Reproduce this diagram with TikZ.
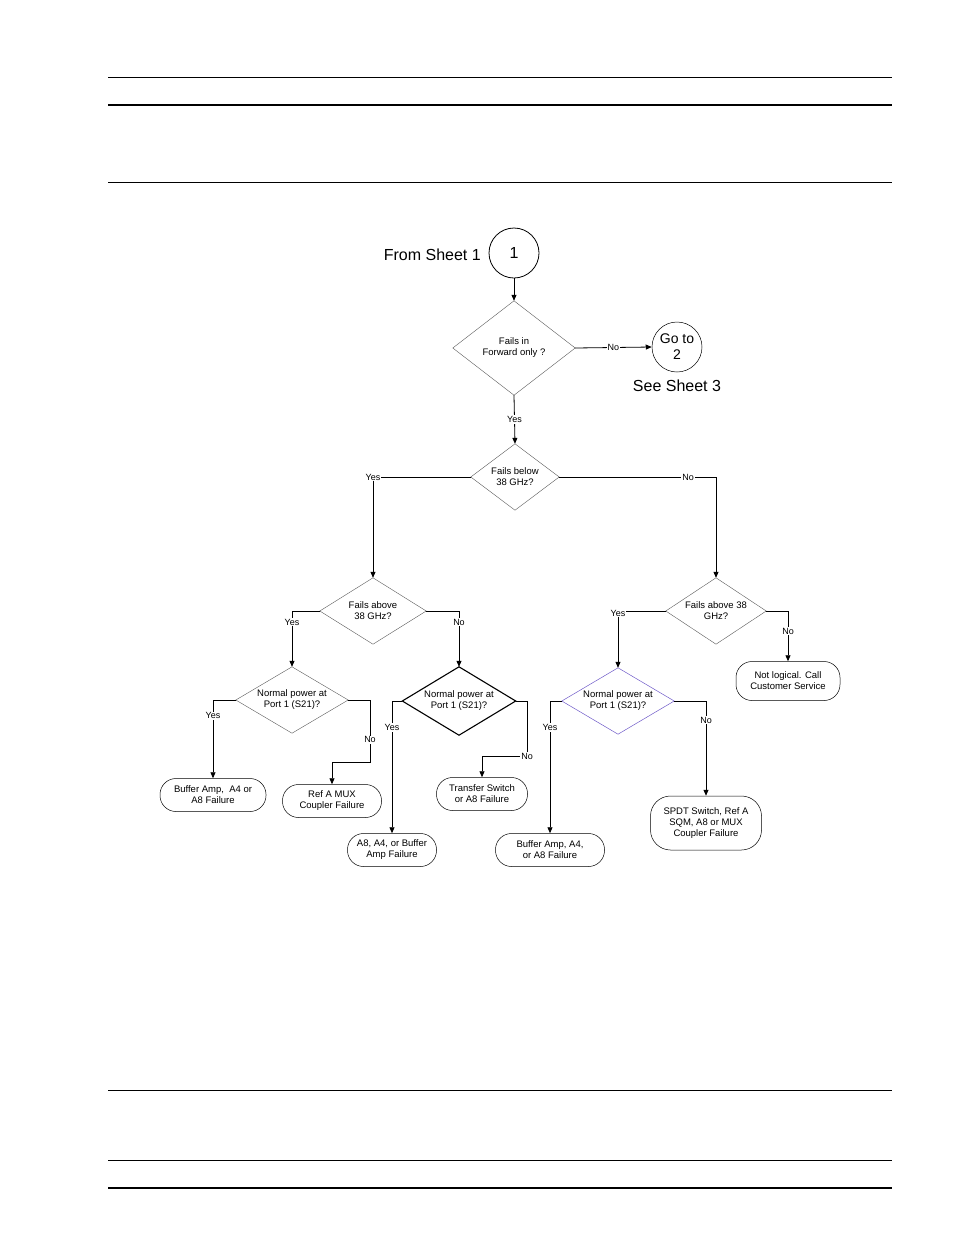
\documentclass[tikz,border=0pt]{standalone}
\usepackage{fontspec}
\setmainfont{Liberation Sans}
\usetikzlibrary{arrows.meta}
\begin{document}
\begin{tikzpicture}[x=1pt,y=-1pt,
  txt/.style={font=\fontsize{9.5}{11}\selectfont,align=center,inner sep=0},
  dbox/.style={txt,minimum width=#1},
  term/.style={txt,draw,rounded corners=16,minimum height=33,line width=0.5pt},
  lab/.style={font=\fontsize{9}{10}\selectfont,fill=white,inner sep=1pt},
  big/.style={font=\fontsize{16}{19}\selectfont,align=center,inner sep=0},
  arr/.style={-{Triangle[length=6pt,width=5pt]},line width=0.8pt},
  ln/.style={line width=0.8pt}]
\useasboundingbox (0,0) rectangle (954,1235);
% page rules
\draw[line width=0.6pt] (108,77)--(892,77);
\draw[line width=1.5pt] (108,105)--(892,105);
\draw[line width=0.6pt] (108,182)--(892,182);
\draw[line width=0.6pt] (108,1090)--(892,1090);
\draw[line width=0.6pt] (108,1160)--(892,1160);
\draw[line width=1.5pt] (108,1188)--(892,1188);
\newcommand\dia[5]{% name, x, y, w, h
  \node[txt,minimum width=#4,minimum height=#5] (#1) at (#2,#3) {};}
% circles
\node[big,draw,circle,minimum size=50,line width=0.8pt] (c1) at (514,253) {1};
\node[big,anchor=east] (from) at (481,255) {From Sheet 1};
\node[big,draw,circle,minimum size=50,line width=0.5pt,font=\fontsize{14}{16}\selectfont] (c2) at (677,347) {Go to\\2};
\node[big] (see) at (677,386) {See Sheet 3};
% diamonds
\node[txt,minimum width=122,minimum height=94] (d1) at (514,348) {Fails in\\Forward only ?};
\node[txt,minimum width=88,minimum height=66] (d2) at (515,477) {Fails below\\38 GHz?};
\node[txt,minimum width=106,minimum height=66] (d3) at (373,611) {Fails above\\38 GHz?};
\node[txt,minimum width=100,minimum height=66] (d4) at (716,611) {Fails above 38\\GHz?};
\node[txt,minimum width=112,minimum height=66] (d5) at (292,700) {Normal power at\\Port 1 (S21)?};
\node[txt,minimum width=113,minimum height=68] (d6) at (459,701) {Normal power at\\Port 1 (S21)?};
\node[txt,minimum width=112,minimum height=66] (d7) at (618,701) {Normal power at\\Port 1 (S21)?};
\foreach \d in {d1,d2,d3,d4,d5}
  \draw[line width=0.4pt,gray!70!black] (\d.north)--(\d.east)--(\d.south)--(\d.west)--cycle;
\draw[line width=1.1pt] (d6.north)--(d6.east)--(d6.south)--(d6.west)--cycle;
\draw[line width=0.5pt,color={rgb,255:red,110;green,90;blue,200}] (d7.north)--(d7.east)--(d7.south)--(d7.west)--cycle;
% terminals
\node[term,minimum width=106] (t1) at (213,795) {Buffer Amp,\ \ A4 or\\A8 Failure};
\node[term,minimum width=99] (t2) at (332,801) {Ref A MUX\\Coupler Failure};
\node[term,minimum width=89] (t3) at (392,850) {A8, A4, or Buffer\\Amp Failure};
\node[term,minimum width=91] (t4) at (482,794) {Transfer Switch\\or A8 Failure};
\node[term,minimum width=104,minimum height=39] (t5) at (788,681) {Not logical. Call\\Customer Service};
\node[term,minimum width=109] (t6) at (550,850) {Buffer Amp, A4,\\or A8 Failure};
\node[term,minimum width=111,minimum height=54,rounded corners=20] (t7) at (706,823) {SPDT Switch, Ref A\\SQM, A8 or MUX\\Coupler Failure};
% connectors
\draw[arr] (c1) -- (d1.north);
\draw[arr] (d1.east) -- node[lab]{No} (c2.west);
\draw[arr] (d1.south) -- node[lab]{Yes} (d2.north);
\draw[arr] (d2.west) -| node[lab,pos=0.5]{Yes} (d3.north);
\draw[arr] (d2.east) -| node[lab,pos=0.5,xshift=-28]{No} (d4.north);
\draw[arr] (d3.west) -| (d5.north) node[lab,pos=0.6]{Yes};
\draw[arr] (d3.east) -| (d6.north) node[lab,pos=0.6]{No};
\draw[arr] (d5.west) -| (t1.north) node[lab,pos=0.6]{Yes};
\draw[arr] (d5.east) -| (370,762) node[lab,pos=0.82]{No} -| (t2.north);
\draw[arr] (d6.west) -| (t3.north) node[lab,pos=0.6]{Yes};
\draw[arr] (d6.east) -| (527,756) node[lab]{No} -| (t4.north);
\draw[arr] (d4.west) -| (d7.north) node[lab,pos=0.52]{Yes};
\draw[arr] (d4.east) -| (t5.north) node[lab,pos=0.7]{No};
\draw[arr] (d7.west) -| (t6.north) node[lab,pos=0.6]{Yes};
\draw[arr] (d7.east) -| (t7.north) node[lab,pos=0.6]{No};
\end{tikzpicture}
\end{document}
